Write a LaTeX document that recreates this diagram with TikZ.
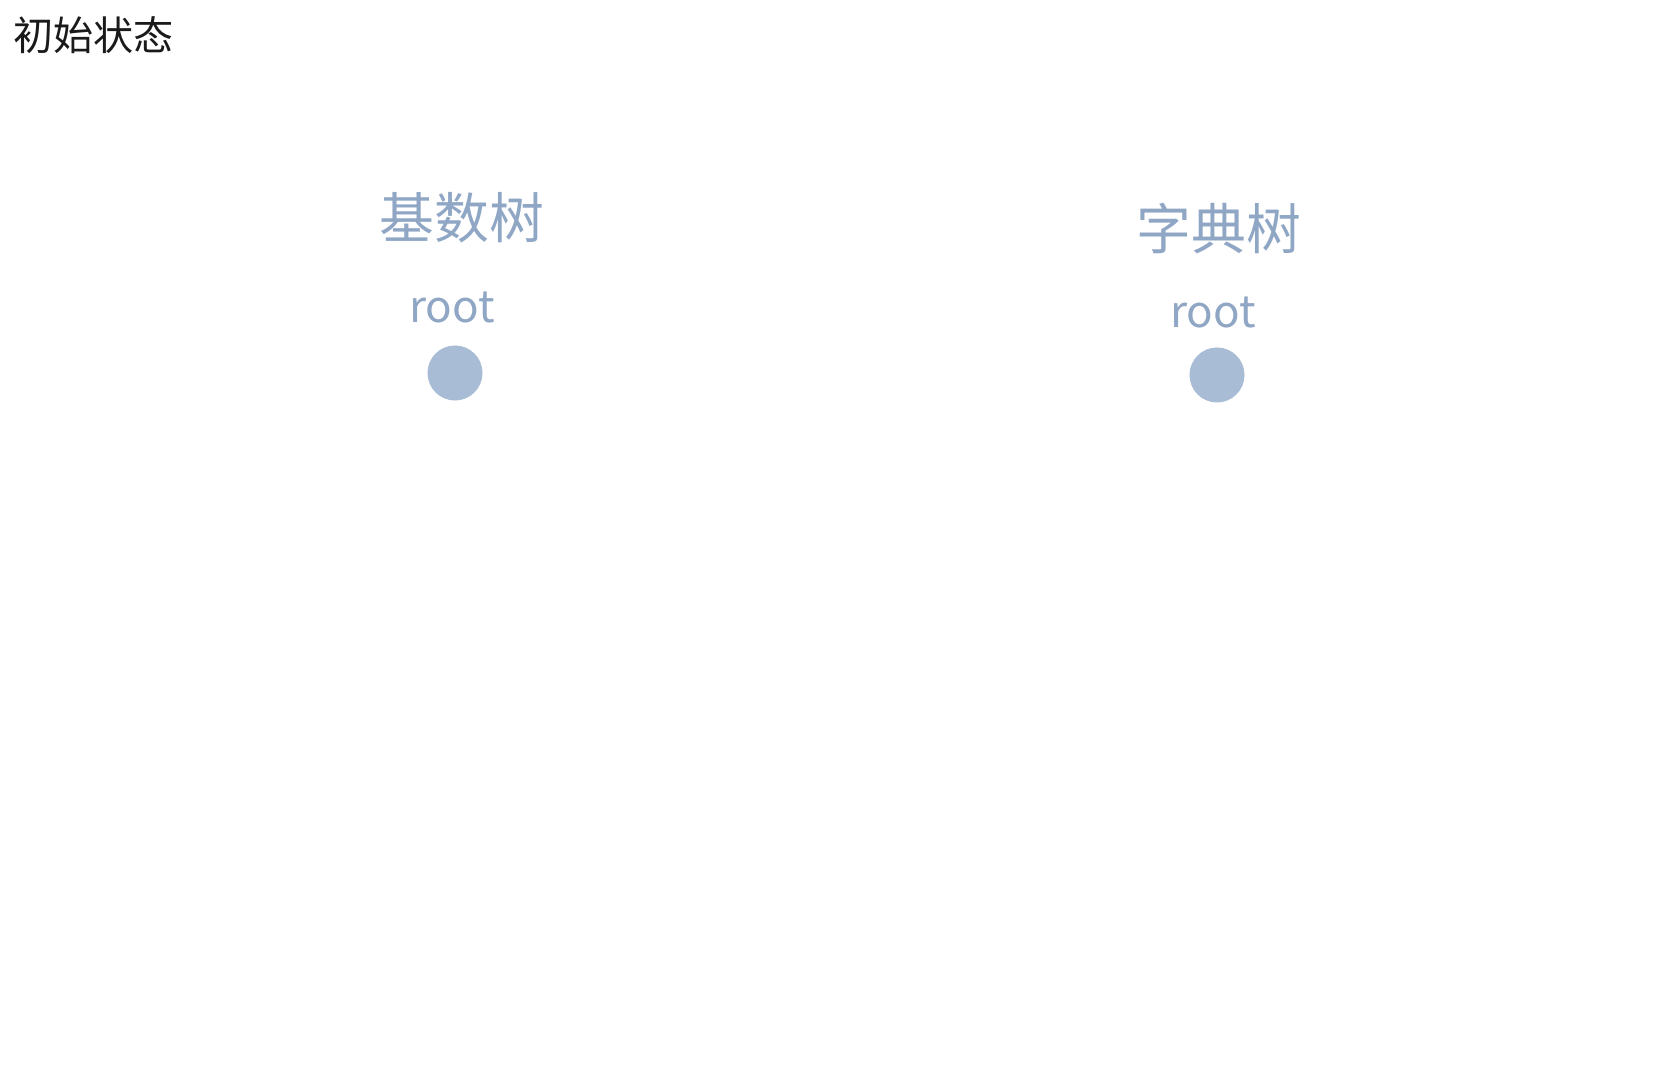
\documentclass[tikz,border=0pt]{standalone}
\usepackage{fontspec}
\newfontfamily\cjk{Noto Sans CJK SC}
\usetikzlibrary{positioning}
\definecolor{treeblue}{HTML}{A8BCD6}
\definecolor{labelblue}{HTML}{8FA6C4}
\definecolor{captiongray}{HTML}{1A1A1A}

\begin{document}
\begin{tikzpicture}[x=0.01cm,y=-0.01cm]
  \tikzstyle{caption} = [anchor=west, inner sep=0pt, text=captiongray, font=\cjk\fontsize{11.4}{13}\selectfont];
  \tikzstyle{treename} = [inner sep=0pt, text=labelblue, font=\cjk\fontsize{15.6}{18}\selectfont];
  \tikzstyle{rootname} = [inner sep=0pt, text=labelblue, font=\cjk\fontsize{12.5}{14}\selectfont];
  \tikzstyle{rootdot} = [circle, fill=treeblue, inner sep=0pt, minimum size=0.55cm];
  \useasboundingbox (0,0) rectangle (1663,1080);
  \node[caption] (start) at (13,35) {初始状态};
  % radix tree
  \node[treename] (radix) at (462,218) {基数树};
  \node[rootname] (radixlabel) at (452,308) {root};
  \node[rootdot] (radixroot) at (455,373) {};
  % trie
  \node[treename] (trie) at (1219,229) {字典树};
  \node[rootname] (trielabel) at (1213,312) {root};
  \node[rootdot] (trieroot) at (1217,375) {};
\end{tikzpicture}
\end{document}
